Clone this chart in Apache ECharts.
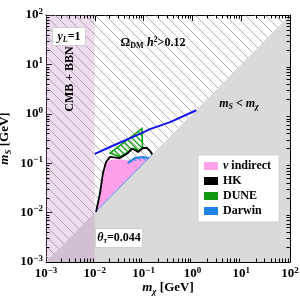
<!DOCTYPE html>
<html><head><meta charset="utf-8">
<script src="https://cdn.jsdelivr.net/npm/echarts@6/dist/echarts.min.js"></script>
<style>html,body{margin:0;padding:0;background:#fff}#c{width:300px;height:300px}</style>
</head><body><div id="c"></div>
<script>
// ---- data (m_chi [GeV], m_S [GeV]) ----
const axisMin = 0.001, axisMax = 100;
const grayX = [0.001, 100, 100];            // m_S < m_chi
const grayY = [0.001, 0.001, 100];
const relicRegionX = [0.001, 0.001, 100];   // Omega h^2 > 0.12 (hatched)
const relicRegionY = [0.001, 100, 100];
const cmbX = [0.001, 0.01, 0.01, 0.001];    // CMB + BBN
const cmbY = [0.001, 0.001, 100, 100];
const relicX = [0.01, 0.0205, 0.093, 0.135, 0.35, 1.2];
const relicY = [0.155, 0.213, 0.41, 0.49, 0.68, 1.18];
const hkX = [0.0106, 0.0128, 0.0147, 0.017, 0.0205, 0.0328, 0.0479, 0.0578, 0.0666, 0.0767, 0.0972, 0.117, 0.135, 0.15];
const hkY = [0.0103, 0.0249, 0.0634, 0.106, 0.134, 0.127, 0.161, 0.194, 0.185, 0.169, 0.203, 0.203, 0.177, 0.15];
const nuX = [0.0106, 0.0128, 0.0147, 0.017, 0.022, 0.03, 0.04, 0.048, 0.066, 0.097, 0.125];
const nuY = [0.0106, 0.025, 0.063, 0.105, 0.118, 0.12, 0.118, 0.115, 0.125, 0.133, 0.125];
const duneX = [0.0205, 0.0927, 0.0949, 0.077, 0.067, 0.058, 0.048, 0.033];
const duneY = [0.16, 0.503, 0.203, 0.178, 0.195, 0.2, 0.168, 0.135];
const darwinArcX = [0.047, 0.066, 0.097, 0.123, 0.128];
const darwinArcY = [0.1, 0.127, 0.134, 0.127, 0.128];
const darwinBandX = [0.047, 0.066, 0.097, 0.123, 0.128, 0.11, 0.085, 0.062, 0.047];
const darwinBandY = [0.1, 0.127, 0.134, 0.127, 0.128, 0.113, 0.113, 0.107, 0.1];
const darwinDiagX = [0.0106, 0.15];
const darwinDiagY = [0.0106, 0.15];
const majorTicks = [0.001, 0.01, 0.1, 1, 10, 100];

const SERIF = 'Liberation Serif';
function hatch(size, color, width){
  const c = document.createElement('canvas'); c.width = size; c.height = size;
  const g = c.getContext('2d'); g.strokeStyle = color; g.lineWidth = width;
  for (const o of [-size, 0, size]) { g.beginPath(); g.moveTo(o - 1, -1); g.lineTo(o + size + 1, size + 1); g.stroke(); }
  return {image: c, repeat: 'repeat'};
}
const grayHatch = hatch(10, '#9a9a9a', 0.8);
const greenHatch = hatch(6, '#14a014', 1.3);
const blueHatch = hatch(5, '#3a90e8', 1.1);

function poly(name, xs, ys, style, z){
  return {type: 'custom', name, z: z || 2, silent: true,
    data: xs.map((x, i) => [x, ys[i]]),
    renderItem: (params, api) => {
      if (params.dataIndex !== 0) return;
      const pts = xs.map((x, i) => api.coord([x, ys[i]]));
      return {type: 'polygon', shape: {points: pts}, style: style};
    }};
}
function line(name, xs, ys, color, width, z){
  return {type: 'line', name, z: z || 3, silent: true, showSymbol: false, symbol: 'none',
    data: xs.map((x, i) => [x, ys[i]]), lineStyle: {color, width}, itemStyle: {color}};
}
function ticks(){
  return {type: 'custom', z: 10, silent: true, data: [[1, 1]],
    renderItem: (params, api) => {
      const a = api.coord([axisMin, axisMin]), b = api.coord([axisMax, axisMax]);
      const L = a[0], B = a[1], R = b[0], T = b[1];
      const ch = [];
      const ln = (x1, y1, x2, y2) => ch.push({type: 'line', shape: {x1, y1, x2, y2}, style: {stroke: '#000', lineWidth: 1}});
      for (let d = -3; d < 2; d++) for (let k = 2; k < 10; k++) {
        const v = k * Math.pow(10, d);
        const px = Math.round(api.coord([v, 1])[0]) + 0.5;
        const py = Math.round(api.coord([1, v])[1]) + 0.5;
        ln(px, B, px, B - 3.5); ln(px, T, px, T + 3.5);
        ln(L, py, L + 3.5, py); ln(R, py, R - 3.5, py);
      }
      return {type: 'group', children: ch};
    }};
}
const lab = v => { const e = Math.round(Math.log10(v)); return '{b|10}{s|' + (e < 0 ? '\u2212' + (-e) : e) + '}'; };
const labRich = {
  b: {fontFamily: SERIF, fontWeight: 'bold', fontSize: 13, color: '#000', lineHeight: 16},
  s: {fontFamily: SERIF, fontWeight: 'bold', fontSize: 9, color: '#000', lineHeight: 9, padding: [0, 0, 7, 0]}
};
const nameRich = {
  i: {fontFamily: SERIF, fontWeight: 'bold', fontStyle: 'italic', fontSize: 13, color: '#000', lineHeight: 16},
  b: {fontFamily: SERIF, fontWeight: 'bold', fontSize: 13, color: '#000', lineHeight: 16},
  sub: {fontFamily: SERIF, fontWeight: 'bold', fontStyle: 'italic', fontSize: 9, color: '#000', lineHeight: 9, padding: [7, 0, 0, 0]}
};
function axisBase(extra){
  return Object.assign({type: 'log', logBase: 10, min: axisMin, max: axisMax, splitNumber: 5,
    axisLine: {show: true, onZero: false, lineStyle: {color: '#000', width: 1}},
    axisTick: {show: true, inside: true, length: 6, lineStyle: {color: '#000', width: 1}},
    splitLine: {show: false}, minorTick: {show: false}, nameMoveOverlap: false}, extra);
}
const txtRich = {
  b: {fontFamily: SERIF, fontWeight: 'bold', fontSize: 12, color: '#000', lineHeight: 14},
  i: {fontFamily: SERIF, fontWeight: 'bold', fontStyle: 'italic', fontSize: 12, color: '#000', lineHeight: 14},
  sub: {fontFamily: SERIF, fontWeight: 'bold', fontSize: 8, color: '#000', lineHeight: 8, padding: [6, 0, 0, 0]},
  isub: {fontFamily: SERIF, fontWeight: 'bold', fontStyle: 'italic', fontSize: 8, color: '#000', lineHeight: 8, padding: [6, 0, 0, 0]},
  sup: {fontFamily: SERIF, fontWeight: 'bold', fontSize: 8, color: '#000', lineHeight: 8, padding: [0, 0, 6, 0]}
};

const chart = echarts.init(document.getElementById('c'), null, {renderer: 'canvas'});
chart.setOption({
  animation: false,
  grid: {left: 46, right: 10, top: 15, bottom: 38, containLabel: false, outerBoundsMode: 'none'},
  xAxis: [
    axisBase({position: 'bottom', name: '{i|m}{sub|\u03c7} {b|[GeV]}', nameLocation: 'middle', nameGap: 18,
      nameTextStyle: {rich: nameRich}, axisLabel: {margin: 4, formatter: lab, rich: labRich}}),
    axisBase({position: 'top', axisLabel: {show: false}})
  ],
  yAxis: [
    axisBase({position: 'left', name: '{i|m}{sub|S} {b|[GeV]}', nameLocation: 'middle', nameGap: 33, nameRotate: 90,
      nameTextStyle: {rich: nameRich}, axisLabel: {margin: 3, formatter: lab, rich: labRich}}),
    axisBase({position: 'right', axisLabel: {show: false}})
  ],
  legend: {orient: 'vertical', left: 198, top: 155, backgroundColor: '#fff', borderColor: '#d0d0d0', borderWidth: 1,
    padding: [5, 8, 5, 6], itemWidth: 14, itemHeight: 8, itemGap: 3,
    textStyle: {fontFamily: SERIF, fontWeight: 'bold', fontSize: 12, color: '#000', rich: txtRich},
    formatter: n => n === '\u03bd indirect' ? '{i|\u03bd} {b|indirect}' : '{b|' + n + '}',
    data: [
      {name: '\u03bd indirect', icon: 'rect', itemStyle: {color: '#ffa2ea'}},
      {name: 'HK', icon: 'rect', itemStyle: {color: '#000'}},
      {name: 'DUNE', icon: 'rect', itemStyle: {color: '#119a11'}},
      {name: 'Darwin', icon: 'rect', itemStyle: {color: '#1e82e6'}}
    ]},
  graphic: [
    {type: 'rect', shape: {x: 52.5, y: 27.5, width: 33, height: 18}, style: {fill: '#fff', stroke: '#cfcfcf', lineWidth: 1}, z: 50},
    {type: 'text', x: 69, y: 37, z: 51, style: {text: '{i|y}{isub|L}{b|=1}', rich: txtRich, align: 'center', verticalAlign: 'middle'}},
    {type: 'text', x: 70, y: 79, rotation: Math.PI / 2, z: 51, style: {text: '{b|CMB + BBN}', rich: txtRich, align: 'center', verticalAlign: 'middle'}},
    {type: 'text', x: 153, y: 43, z: 51, style: {text: '{b|\u03a9}{sub|DM} {i|h}{sup|2}{b|>0.12}', rich: txtRich, align: 'center', verticalAlign: 'middle'}},
    {type: 'text', x: 239, y: 104, z: 51, style: {text: '{i|m}{isub|S}{b| < }{i|m}{isub|\u03c7}', rich: txtRich, align: 'center', verticalAlign: 'middle'}},
    {type: 'rect', shape: {x: 95.5, y: 228.5, width: 47, height: 19}, style: {fill: '#fff', stroke: '#cfcfcf', lineWidth: 1}, z: 50},
    {type: 'text', x: 119, y: 238, z: 51, style: {text: '{i|\u03b8}{isub|\u03c4}{b|=0.044}', rich: txtRich, align: 'center', verticalAlign: 'middle'}}
  ],
  series: [
    poly('gray', grayX, grayY, {fill: '#dadada'}),
    poly('relic', relicRegionX, relicRegionY, {fill: grayHatch}),
    poly('cmb', cmbX, cmbY, {fill: 'rgba(185,120,185,0.26)'}),
    poly('\u03bd indirect', nuX, nuY, {fill: 'rgba(255,150,232,0.9)'}),
    poly('Darwin', darwinBandX, darwinBandY, {fill: blueHatch}),
    line('Darwin', darwinDiagX, darwinDiagY, '#4a9ae8', 1, 3),
    line('Darwin', darwinArcX, darwinArcY, '#1e82e6', 2, 3),
    poly('DUNE', duneX, duneY, {fill: greenHatch, stroke: '#14a014', lineWidth: 1.6}, 4),
    line('HK', hkX, hkY, '#000', 1.8, 5),
    line('relicLine', relicX, relicY, '#1414ee', 2, 6),
    ticks()
  ]
});
</script></body></html>
